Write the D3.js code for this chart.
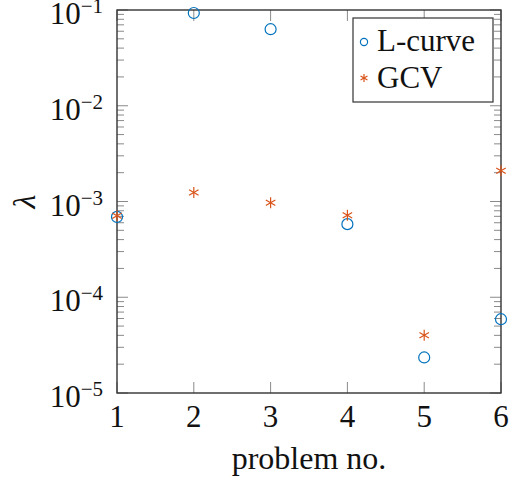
<!DOCTYPE html>
<html>
<head>
<meta charset="utf-8">
<script src="https://cdn.jsdelivr.net/npm/d3@7"></script>
<style>
  body { margin: 0; background: #fff; }
  text { font-family: "Liberation Serif", "DejaVu Serif", serif; fill: #111; }
</style>
</head>
<body>
<svg id="chart" width="509" height="479"></svg>
<script>
// Regularization parameter chosen by each method, per test problem
const problems = [1, 2, 3, 4, 5, 6];
const lcurve = [6.9e-4, 0.093, 0.063, 5.8e-4, 2.35e-5, 5.9e-5];
const gcv = [7.1e-4, 1.24e-3, 9.7e-4, 7.2e-4, 4.0e-5, 2.1e-3];
const xTicks = [1, 2, 3, 4, 5, 6];
const yExponents = [-1, -2, -3, -4, -5];
const seriesNames = ["L-curve", "GCV"];

const blue = "#0072BD", orange = "#D95319";
const svg = d3.select("#chart");
const L = 117, R = 501, T = 10, B = 393;

const x = d3.scaleLinear().domain([1, 6]).range([L, R]);
const y = d3.scaleLog().domain([1e-5, 1e-1]).range([B, T]);

const tickColor = "#8a8a8a";
const g = svg.append("g");

// minor ticks on left and right (2..9 within each decade)
const minor = [];
for (let e = -5; e < -1; e++) for (let m = 2; m <= 9; m++) minor.push(m * Math.pow(10, e));
minor.forEach(v => {
  g.append("line").attr("x1", L).attr("x2", L + 7).attr("y1", y(v)).attr("y2", y(v))
    .attr("stroke", tickColor).attr("stroke-width", 1);
  g.append("line").attr("x1", R).attr("x2", R - 7).attr("y1", y(v)).attr("y2", y(v))
    .attr("stroke", tickColor).attr("stroke-width", 1);
});
// major y ticks
yExponents.forEach(e => {
  const v = Math.pow(10, e);
  g.append("line").attr("x1", L).attr("x2", L + 11).attr("y1", y(v)).attr("y2", y(v))
    .attr("stroke", tickColor).attr("stroke-width", 1);
  g.append("line").attr("x1", R).attr("x2", R - 11).attr("y1", y(v)).attr("y2", y(v))
    .attr("stroke", tickColor).attr("stroke-width", 1);
});
// major x ticks on bottom and top
xTicks.forEach(t => {
  g.append("line").attr("x1", x(t)).attr("x2", x(t)).attr("y1", B).attr("y2", B - 11)
    .attr("stroke", tickColor).attr("stroke-width", 1);
  g.append("line").attr("x1", x(t)).attr("x2", x(t)).attr("y1", T).attr("y2", T + 11)
    .attr("stroke", tickColor).attr("stroke-width", 1);
});

// frame
g.append("rect").attr("x", L).attr("y", T).attr("width", R - L).attr("height", B - T)
  .attr("fill", "none").attr("stroke", "#333").attr("stroke-width", 1.4);

// x tick labels
xTicks.forEach(t => {
  svg.append("text").attr("x", x(t)).attr("y", B + 34).attr("text-anchor", "middle")
    .attr("font-size", 31).text(t);
});
// y tick labels 10^e
yExponents.forEach(e => {
  const yy = y(Math.pow(10, e));
  const t = svg.append("text").attr("x", L - 14).attr("y", yy + 14)
    .attr("text-anchor", "end").attr("font-size", 31);
  t.append("tspan").text("10");
  t.append("tspan").attr("dy", -11).attr("font-size", 21).text("\u2212" + Math.abs(e));
});

// axis titles
svg.append("text").attr("x", (L + R) / 2).attr("y", 469).attr("text-anchor", "middle")
  .attr("font-size", 32).text("problem no.");
svg.append("text").attr("transform", "translate(35," + y(1e-3) + ") rotate(-90)")
  .attr("text-anchor", "middle").attr("font-size", 32).attr("font-style", "italic").text("\u03bb");

// marker helpers
function circle(sel, cx, cy, r) {
  sel.append("circle").attr("cx", cx).attr("cy", cy).attr("r", r)
    .attr("fill", "none").attr("stroke", blue).attr("stroke-width", 1.2);
}
function asterisk(sel, cx, cy, r) {
  [90, 30, 150].forEach(a => {
    const rad = a * Math.PI / 180, dx = r * Math.cos(rad), dy = r * Math.sin(rad);
    sel.append("line").attr("x1", cx - dx).attr("y1", cy - dy).attr("x2", cx + dx).attr("y2", cy + dy)
      .attr("stroke", orange).attr("stroke-width", 1.2);
  });
}

const marks = svg.append("g");
problems.forEach((p, i) => circle(marks, x(p), y(lcurve[i]), 5.5));
problems.forEach((p, i) => asterisk(marks, x(p), y(gcv[i]), 5.5));

// legend
const lg = svg.append("g");
lg.append("rect").attr("x", 353).attr("y", 18).attr("width", 140).attr("height", 84)
  .attr("fill", "#fff").attr("stroke", "#333").attr("stroke-width", 1.2);
circle(lg, 364, 42, 3.6);
asterisk(lg, 364, 78, 4);
lg.append("text").attr("x", 377).attr("y", 51).attr("font-size", 31).text(seriesNames[0]);
lg.append("text").attr("x", 377).attr("y", 88).attr("font-size", 31).text(seriesNames[1]);
</script>
</body>
</html>
